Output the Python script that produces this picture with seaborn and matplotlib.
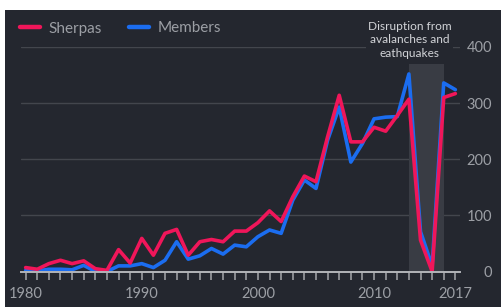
import numpy as np
import pandas as pd
import matplotlib
matplotlib.use("Agg")
import matplotlib.pyplot as plt
from matplotlib.patches import Rectangle
import seaborn as sns

# Data
years = list(range(1980, 2018))
sherpas = [7, 4, 14, 20, 14, 19, 5, 2, 39, 15,
           59, 29, 68, 75, 29, 53, 57, 53, 72, 72,
           87, 108, 89, 133, 170, 160, 240, 314, 231, 231,
           257, 250, 278, 307, 56, 0, 310, 317]
members = [2, 1, 4, 4, 3, 11, 0, 0, 10, 10,
           14, 7, 20, 53, 22, 28, 41, 31, 47, 44,
           62, 74, 68, 127, 163, 148, 234, 293, 195, 228,
           272, 275, 276, 352, 71, 10, 336, 324]
tick_years = [1980, 1990, 2000, 2010, 2017]
y_ticks = [0, 100, 200, 300, 400]
disruption = (2013, 2016)
note = "Disruption from\navalanches and\neathquakes"

df = pd.DataFrame({"year": years, "Sherpas": sherpas, "Members": members})

# Colours
bg = "#24272f"
shade = "#393c44"
grid_col = "#43464d"
text_col = "#9c9fa5"
red = "#f0165a"
blue = "#1b6df0"

sns.set_theme(style="dark")
plt.rcParams["font.family"] = ["Lato", "DejaVu Sans"]

fig = plt.figure(figsize=(5.02, 3.07), dpi=100)
fig.patch.set_facecolor("white")
fig.add_artist(Rectangle((5 / 502, 0), 1, (307 - 10) / 307, transform=fig.transFigure,
                         facecolor=bg, edgecolor="none", zorder=-10))

ax = fig.add_axes([21 / 502, (307 - 271.5) / 307, 439 / 502, 224.5 / 307])
ax.set_facecolor("none")

# shaded disruption period
ax.axvspan(disruption[0], disruption[1], ymin=0, ymax=370 / 400, color=shade, lw=0, zorder=1)

# members first so sherpas sit on top
sns.lineplot(data=df, x="year", y="Members", color=blue, lw=2.6, ax=ax, zorder=3, label="Members")
sns.lineplot(data=df, x="year", y="Sherpas", color=red, lw=2.6, ax=ax, zorder=4, label="Sherpas")

ax.set_xlim(1979.6, 2017.4)
ax.set_ylim(0, 400)
ax.set_xlabel("")
ax.set_ylabel("")

# axes styling
for s in ["top", "left", "right"]:
    ax.spines[s].set_visible(False)
ax.spines["bottom"].set_color("#b2b4b8")
ax.spines["bottom"].set_linewidth(1.4)
ax.spines["bottom"].set_zorder(5)

ax.set_xticks(tick_years)
ax.set_xticks(years, minor=True)
ax.set_xticklabels([str(y) for y in tick_years])
ax.tick_params(axis="x", which="both", direction="out", length=6, width=1.1,
               color="#a4a6aa", bottom=True, pad=5, labelsize=10.5, labelcolor=text_col)

ax.yaxis.tick_right()
ax.set_yticks(y_ticks)
ax.tick_params(axis="y", length=0, pad=23, labelsize=10.5, labelcolor=text_col)
for lab in ax.get_yticklabels():
    lab.set_horizontalalignment("right")

ax.grid(False)
ax.yaxis.grid(True, color=grid_col, lw=1)
ax.set_axisbelow(True)

# annotation
ax.text(2013.05, 413, note, ha="center", va="center", fontsize=8.6, color="#d2d4d8",
        linespacing=1.3, zorder=6,
        bbox=dict(facecolor=bg, edgecolor="none", pad=1.5))

# legend above the plot
handles, labels = ax.get_legend_handles_labels()
order = [labels.index("Sherpas"), labels.index("Members")]
leg = ax.legend([handles[i] for i in order], [labels[i] for i in order],
                loc="center left", bbox_to_anchor=(20 / 502, (307 - 28.5) / 307),
                bbox_transform=fig.transFigure, ncol=2, frameon=False,
                fontsize=11, handlelength=1.3, handletextpad=0.55, columnspacing=1.8,
                borderpad=0, borderaxespad=0)
for t in leg.get_texts():
    t.set_color(text_col)
for h in leg.get_lines():
    h.set_linewidth(3.2)

fig.savefig("out.png", dpi=100, facecolor=fig.get_facecolor())
